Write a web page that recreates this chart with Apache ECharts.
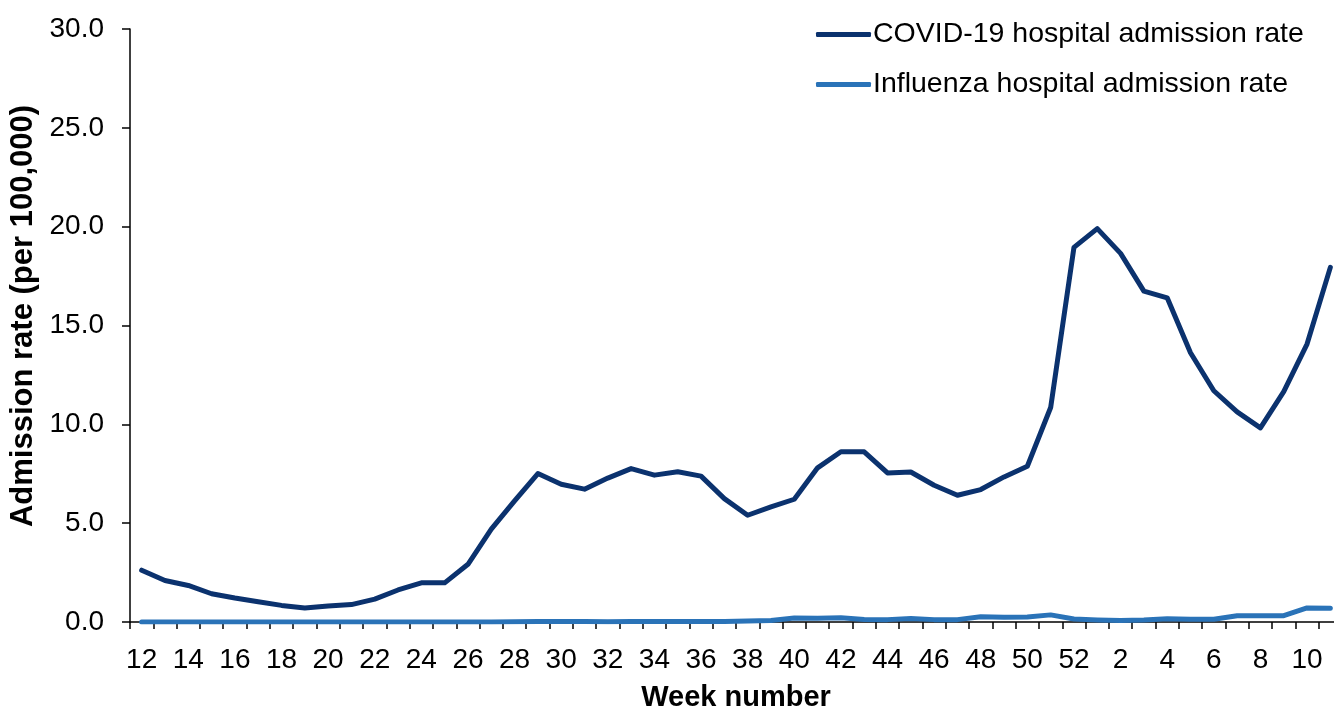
<!DOCTYPE html>
<html>
<head>
<meta charset="utf-8">
<script src="https://cdn.jsdelivr.net/npm/echarts@6/dist/echarts.min.js"></script>
<style>
html,body{margin:0;padding:0;background:#fff;}
#chart{width:1334px;height:709px;}
</style>
</head>
<body>
<div id="chart"></div>
<script>
const weeks = ['12','13','14','15','16','17','18','19','20','21','22','23','24','25','26','27','28','29','30','31','32','33','34','35','36','37','38','39','40','41','42','43','44','45','46','47','48','49','50','51','52','1','2','3','4','5','6','7','8','9','10','11'];
const covidRate = [2.62,2.1,1.85,1.43,1.21,1.02,0.84,0.71,0.81,0.88,1.16,1.62,1.98,1.98,2.92,4.7,6.13,7.51,6.97,6.72,7.28,7.76,7.43,7.6,7.38,6.24,5.4,5.82,6.21,7.8,8.61,8.61,7.54,7.59,6.92,6.41,6.7,7.34,7.88,10.85,18.95,19.9,18.65,16.74,16.4,13.62,11.7,10.63,9.82,11.65,14.06,17.94];
const fluRate = [0.0,0.0,0.0,0.0,0.0,0.0,0.0,0.0,0.0,0.0,0.0,0.0,0.0,0.0,0.0,0.0,0.01,0.02,0.02,0.02,0.01,0.02,0.02,0.02,0.02,0.02,0.05,0.08,0.2,0.19,0.22,0.13,0.12,0.18,0.12,0.12,0.27,0.24,0.25,0.36,0.15,0.1,0.07,0.1,0.17,0.14,0.14,0.32,0.32,0.32,0.71,0.69];
const seriesNames = ['COVID-19 hospital admission rate','Influenza hospital admission rate'];
const yTicks = {min:0, max:30, step:5};

const FONT = '"Liberation Sans", Arial, sans-serif';
const chart = echarts.init(document.getElementById('chart'), null, {renderer:'canvas'});
chart.setOption({
  animation:false,
  backgroundColor:'#ffffff',
  grid:{left:130, right:-8, top:29, bottom:87, containLabel:false, outerBoundsMode:'none'},
  legend:{
    orient:'vertical', left:811, top:15, itemGap:21,
    itemWidth:55, itemHeight:5, icon:'roundRect',
    textStyle:{fontFamily:FONT, fontSize:28.5, color:'#000', padding:[0,0,0,-3]},
    data:seriesNames
  },
  xAxis:{
    type:'category', data:weeks, boundaryGap:true,
    name:'Week number', nameLocation:'middle', nameGap:61,
    nameTextStyle:{fontFamily:FONT, fontSize:29, fontWeight:'bold', color:'#000'},
    axisLine:{lineStyle:{color:'#000', width:1.5}},
    axisTick:{show:true, interval:0, length:7, lineStyle:{color:'#000', width:1.5}},
    axisLabel:{interval:1, fontFamily:FONT, fontSize:28, color:'#000', margin:24}
  },
  yAxis:{
    type:'value', min:yTicks.min, max:yTicks.max, interval:yTicks.step,
    name:'Admission rate (per 100,000)', nameLocation:'middle', nameGap:90,
    nameTextStyle:{fontFamily:FONT, fontSize:31, fontWeight:'bold', color:'#000', padding:[0,0,0,19]},
    axisLine:{show:true, lineStyle:{color:'#000', width:1.5}},
    axisTick:{show:true, length:8, lineStyle:{color:'#000', width:1.5}},
    splitLine:{show:false},
    axisLabel:{fontFamily:FONT, fontSize:28, color:'#000', margin:26, formatter:v=>v.toFixed(1)}
  },
  series:[
    {name:seriesNames[0], type:'line', data:covidRate, showSymbol:false, symbol:'none',
     color:'#0b326e', lineStyle:{color:'#0b326e', width:5, cap:'round', join:'round'}, z:3},
    {name:seriesNames[1], type:'line', data:fluRate, showSymbol:false, symbol:'none',
     color:'#2a73b8', lineStyle:{color:'#2a73b8', width:5, cap:'round', join:'round'}, z:2}
  ]
});
</script>
</body>
</html>
